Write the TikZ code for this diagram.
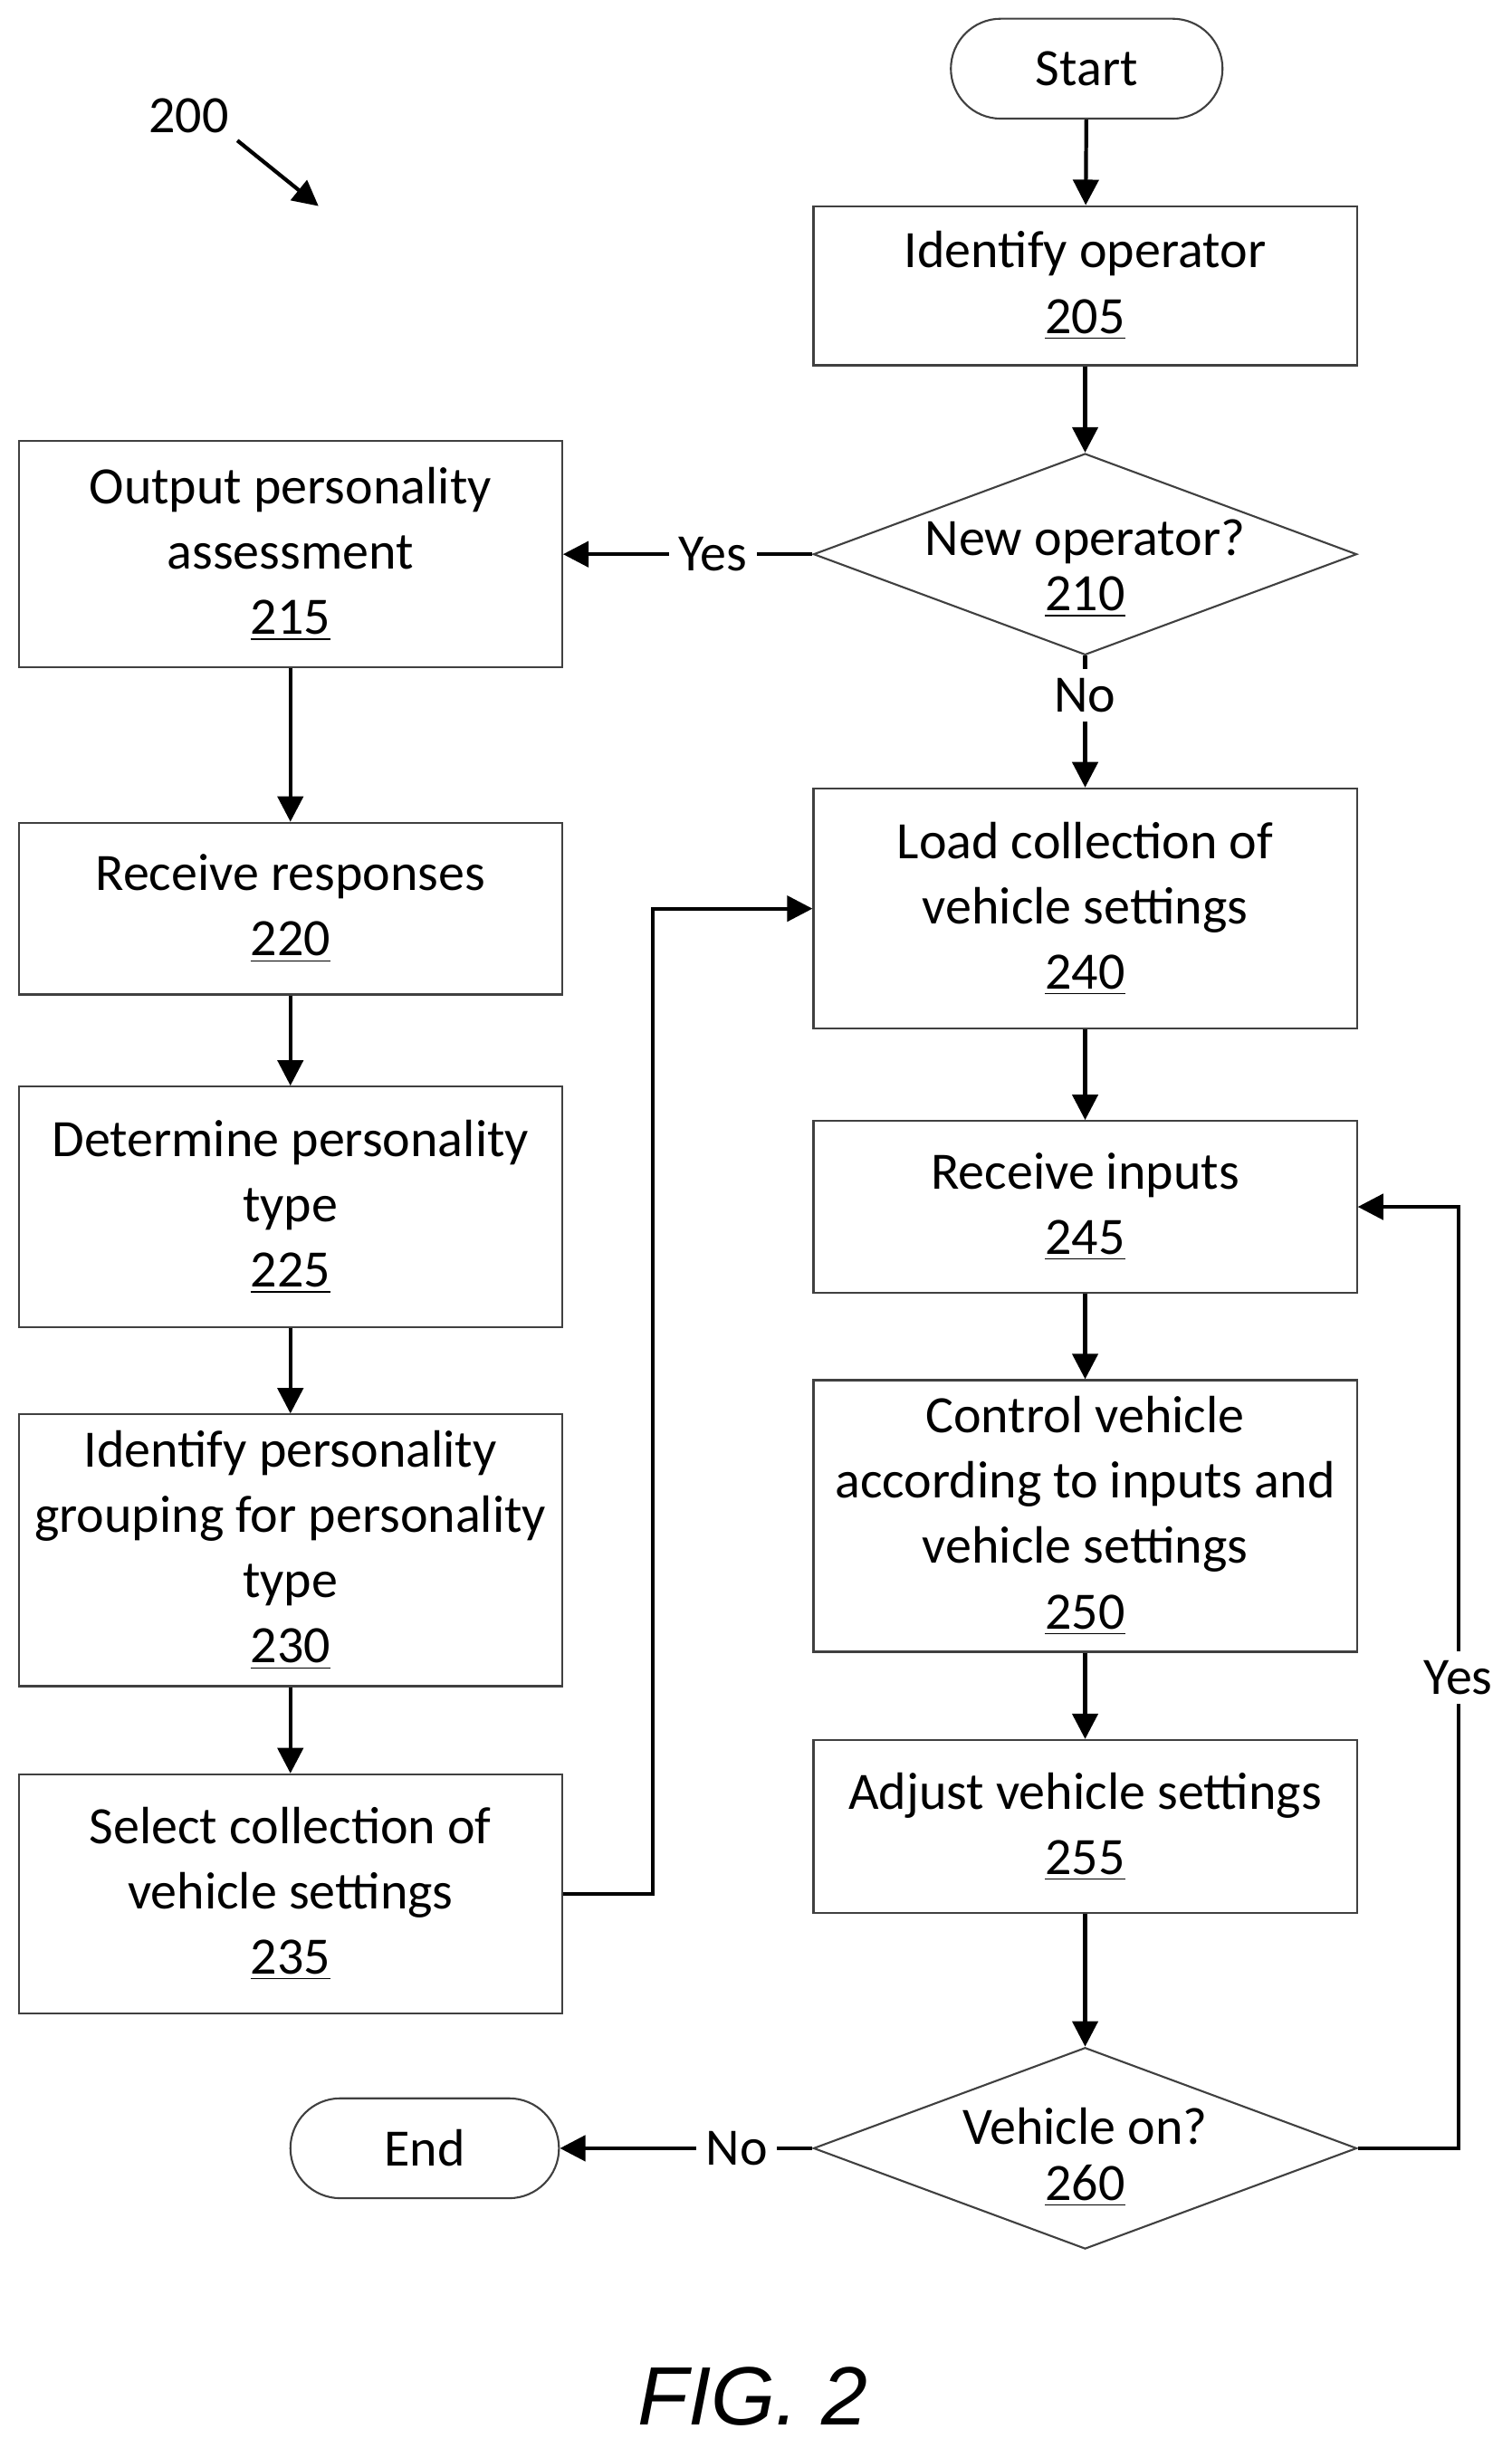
\documentclass[tikz,border=0pt]{standalone}
\usepackage{fontspec}
\setmainfont{Carlito}
\newfontfamily\figfont{Liberation Sans}
\usetikzlibrary{shapes.geometric,arrows.meta}
\begin{document}
\begin{tikzpicture}[x=0.01724cm,y=-0.01724cm,
  box/.style={draw=black!75,line width=0.6pt,minimum width=348*0.01724cm,align=center,inner sep=2pt},
  dia/.style={diamond,draw=black!75,line width=0.6pt,minimum width=348*0.01724cm,minimum height=129*0.01724cm,inner sep=0pt},
  term/.style={draw=black!75,line width=0.6pt,rounded corners=32*0.01724cm,minimum height=64*0.01724cm},
  arr/.style={line width=1.2pt,-{Triangle[length=8pt,width=8pt]}},
  lbl/.style={fill=white,inner sep=3pt},
  every node/.style={font=\fontsize{16.5}{20.5}\selectfont}]
\useasboundingbox (0,0) rectangle (968,1568);
\node[term,minimum width=174*0.01724cm] (start) at (696,44) {Start};
\node[box,minimum height=102*0.01724cm] (n205) at (695,183) {Identify operator\\\underline{205}};
\node[dia] (n210) at (695,355) {};
\node[align=center,font=\fontsize{16.5}{17.5}\selectfont] (t210) at (695,364) {New operator?\\\underline{210}};
\node[box,minimum height=145*0.01724cm] (n215) at (186,355) {Output personality\\assessment\\\underline{215}};
\node[box,minimum height=154*0.01724cm] (n240) at (695,582) {Load collection of\\vehicle settings\\\underline{240}};
\node[box,minimum height=110*0.01724cm] (n220) at (186,582) {Receive responses\\\underline{220}};
\node[box,minimum height=154*0.01724cm] (n225) at (186,773) {Determine personality\\type\\\underline{225}};
\node[box,minimum height=174*0.01724cm] (n230) at (186,993) {Identify personality\\grouping for personality\\type\\\underline{230}};
\node[box,minimum height=153*0.01724cm] (n235) at (186,1213) {Select collection of\\vehicle settings\\\underline{235}};
\node[box,minimum height=110*0.01724cm] (n245) at (695,773) {Receive inputs\\\underline{245}};
\node[box,minimum height=174*0.01724cm] (n250) at (695,971) {Control vehicle\\according to inputs and\\vehicle settings\\\underline{250}};
\node[box,minimum height=111*0.01724cm] (n255) at (695,1170) {Adjust vehicle settings\\\underline{255}};
\node[dia] (n260) at (695,1376) {};
\node[align=center,font=\fontsize{16.5}{17.5}\selectfont] (t260) at (695,1382) {Vehicle on?\\\underline{260}};
\node[term,minimum width=172*0.01724cm] (end) at (272,1376) {End};
\node (lab200) at (121,74) {200};
\coordinate (a1) at (152,90); \coordinate (a2) at (204,132);
\draw[arr] (a1) -- (a2);
\draw[arr] (start) -- (n205);
\draw[arr] (n205) -- (n210);
\draw[arr] (n210) -- node[lbl,pos=0.4]{Yes} (n215);
\draw[arr] (n210) -- node[lbl,pos=0.3]{No} (n240);
\draw[arr] (n215) -- (n220);
\draw[arr] (n220) -- (n225);
\draw[arr] (n225) -- (n230);
\draw[arr] (n230) -- (n235);
\draw[arr] (n235.east) -- (418,1213) -- (418,582) -- (n240.west);
\draw[arr] (n240) -- (n245);
\draw[arr] (n245) -- (n250);
\draw[arr] (n250) -- (n255);
\draw[arr] (n255) -- (n260);
\draw[arr] (n260) -- node[lbl,pos=0.3]{No} (end);
\draw[arr] (n260.east) -- (934,1376) -- node[lbl,pos=0.5]{Yes} (934,773) -- (n245.east);
\node[font=\fontsize{26}{28}\selectfont\figfont\itshape] (fig) at (482,1535) {FIG. 2};
\end{tikzpicture}
\end{document}
